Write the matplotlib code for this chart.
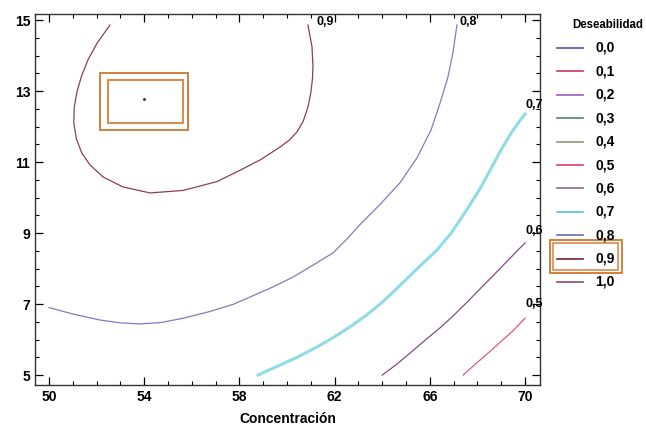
import matplotlib.pyplot as plt
from matplotlib.lines import Line2D
from matplotlib.patches import Rectangle

plt.rcParams['font.family'] = ['Liberation Sans Narrow', 'Liberation Sans', 'DejaVu Sans']
plt.rcParams['font.weight'] = 'bold'

# contour lines of desirability over Concentracion (x) and the second factor (y)
c09_x = [52.56, 52.02, 51.65, 51.38, 51.18, 51.06, 51.04, 51.15, 51.38, 51.72, 52.27, 53.10,
         54.24, 55.63, 57.06, 58.03, 58.87, 59.70, 60.10, 60.42, 60.68, 60.88, 61.00, 61.07,
         61.09, 61.05, 60.88]
c09_y = [14.86, 14.35, 13.90, 13.45, 13.00, 12.55, 12.10, 11.65, 11.25, 10.92, 10.58, 10.30,
         10.13, 10.20, 10.45, 10.77, 11.06, 11.42, 11.62, 11.85, 12.15, 12.55, 12.95, 13.35,
         13.70, 14.24, 14.86]

c08_x = [50.00, 51.00, 52.14, 53.00, 53.82, 54.70, 55.63, 56.70, 57.73, 58.45, 59.40, 60.25,
         61.00, 61.93, 62.50, 63.07, 63.90, 64.75, 65.46, 66.05, 66.43, 66.76, 66.97, 67.14]
c08_y = [6.90, 6.72, 6.55, 6.47, 6.44, 6.48, 6.60, 6.78, 6.99, 7.20, 7.48, 7.76,
         8.06, 8.44, 8.82, 9.24, 9.80, 10.42, 11.12, 11.90, 12.66, 13.39, 14.07, 14.86]

c07_x = [58.78, 59.60, 60.42, 61.20, 61.93, 62.70, 63.36, 64.00, 64.54, 65.40, 66.30, 66.90,
         67.50, 68.11, 68.60, 69.00, 69.45, 69.80, 70.00]
c07_y = [5.00, 5.25, 5.50, 5.77, 6.05, 6.38, 6.70, 7.05, 7.39, 7.95, 8.52, 9.00,
         9.60, 10.25, 10.85, 11.35, 11.85, 12.18, 12.35]

c06_x = [64.00, 64.60, 65.17, 65.80, 66.43, 67.00, 67.56, 68.10, 68.66, 69.24, 69.60, 70.00]
c06_y = [5.00, 5.30, 5.62, 5.98, 6.33, 6.68, 7.05, 7.42, 7.80, 8.20, 8.45, 8.72]

c05_x = [67.40, 67.90, 68.50, 69.00, 69.50, 70.00]
c05_y = [5.00, 5.30, 5.65, 5.95, 6.25, 6.60]

levels = ['0,0', '0,1', '0,2', '0,3', '0,4', '0,5', '0,6', '0,7', '0,8', '0,9', '1,0']
level_colors = ['#5b4bc4', '#c83a5a', '#9a5ac8', '#4a8a6a', '#8a9a7a', '#e0406a',
                '#8a6a8a', '#5ac0c8', '#6a6ac0', '#7a2030', '#8a4a6a']

optimum = (54.0, 12.77)

W, H = 646, 438
fig = plt.figure(figsize=(W / 100, H / 100), dpi=100)
ax = fig.add_axes([35 / W, 1 - 385 / H, 505 / W, 371 / H])

ax.plot(c09_x, c09_y, color='#8a4050', lw=0.9)
ax.plot(c08_x, c08_y, color='#8878c0', lw=0.9)
ax.plot(c07_x, c07_y, color='#8fdce4', lw=2.2)
ax.plot(c06_x, c06_y, color='#7a5080', lw=0.9)
ax.plot(c05_x, c05_y, color='#e05a78', lw=0.9)

# contour labels at the edges of the plot
lab = dict(fontsize=9, fontweight='bold', ha='left', va='center')
ax.text(61.25, 14.95, '0,9', **lab)
ax.text(67.25, 14.95, '0,8', **lab)
ax.text(70.0, 12.6, '0,7', **lab)
ax.text(70.0, 9.05, '0,6', **lab)
ax.text(70.0, 7.0, '0,5', **lab)

# optimum point and highlight boxes
ax.plot(*optimum, marker='.', color='#405040', ms=2.5)
ax.add_patch(Rectangle((52.14, 11.90), 3.70, 1.61, fill=False, ec='#d0803c', lw=1.4))
ax.add_patch(Rectangle((52.48, 12.10), 3.15, 1.21, fill=False, ec='#e0884a', lw=1.4))

ax.set_xlim(49.41, 70.63)
ax.set_ylim(4.72, 15.17)
ax.set_xticks([50, 54, 58, 62, 66, 70])
ax.set_yticks([5, 7, 9, 11, 13, 15])
ax.set_xticks(range(50, 71), minor=True)
ax.set_yticks([5 + 0.5 * i for i in range(21)], minor=True)
ax.tick_params(which='both', direction='in', top=True, right=True, labelsize=10)
ax.tick_params(which='major', length=6, width=0.9)
ax.tick_params(which='minor', length=3, width=0.8)
for s in ax.spines.values():
    s.set_linewidth(1.0)
    s.set_color('#333333')
ax.set_xlabel('Concentración', fontsize=10, fontweight='bold', labelpad=6)

# legend drawn by hand in figure pixels
fig.text(643 / W, 1 - 25 / H, 'Deseabilidad', ha='right', va='center',
         fontsize=8.3, fontweight='bold')
for i, (name, col) in enumerate(zip(levels, level_colors)):
    yy = 1 - (48 + 23.4 * i) / H
    fig.add_artist(Line2D([557 / W, 583 / W], [yy, yy], color=col, lw=1.2,
                          transform=fig.transFigure))
    fig.text(595 / W, yy, name, ha='left', va='center', fontsize=10, fontweight='bold')

# boxes around the 0,9 legend entry
fig.patches.append(Rectangle((550 / W, 1 - 273 / H), 72 / W, 33 / H, fill=False,
                             ec='#d0803c', lw=1.4, transform=fig.transFigure, figure=fig))
fig.patches.append(Rectangle((553 / W, 1 - 270 / H), 65 / W, 27 / H, fill=False,
                             ec='#e0884a', lw=1.2, transform=fig.transFigure, figure=fig))

fig.savefig('out.png', dpi=100)
